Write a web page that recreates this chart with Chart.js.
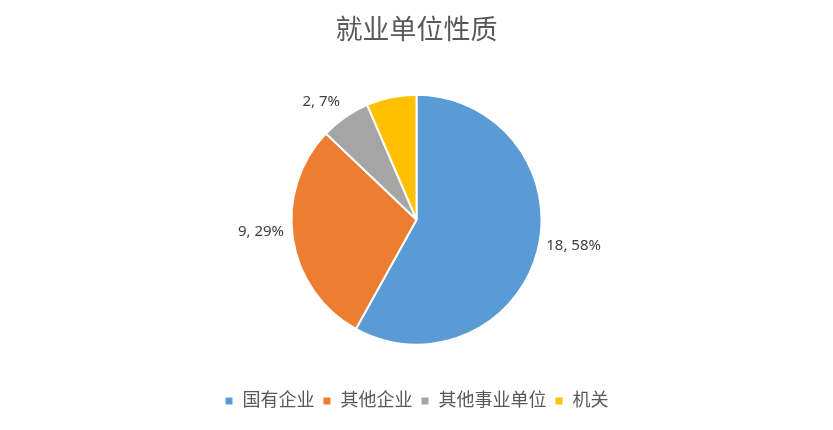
<!DOCTYPE html>
<html>
<head>
<meta charset="utf-8">
<script src="https://cdn.jsdelivr.net/npm/chart.js@4/dist/chart.umd.min.js"></script>
<style>
  html, body { margin: 0; padding: 0; background: #fff; }
  #wrap { width: 833px; height: 430px; }
</style>
</head>
<body>
<div id="wrap"><canvas id="unit-pie"></canvas></div>
<script>
// values
const categories = ['国有企业', '其他企业', '其他事业单位', '机关'];
const counts = [18, 9, 2, 2];
// percent text as printed on the chart (the 机关 slice has no label)
const percentLabels = ['58%', '29%', '7%', ''];
const sliceColors = ['#5B9BD5', '#ED7D31', '#A5A5A5', '#FFC000'];

const FONT = '"Noto Sans", "Noto Sans CJK SC", sans-serif';

// draws "value, pct" outside each slice
const outsideLabels = {
	id: 'outsideLabels',
	afterDatasetsDraw(chart) {
		const { ctx } = chart;
		const meta = chart.getDatasetMeta(0);
		ctx.save();
		ctx.font = '15px ' + FONT;
		ctx.fillStyle = '#404040';
		ctx.textBaseline = 'middle';
		meta.data.forEach((arc, i) => {
			if (!percentLabels[i]) return;
			const mid = (arc.startAngle + arc.endAngle) / 2;
			const r = arc.outerRadius + 9;
			const x = arc.x + Math.cos(mid) * r;
			const y = arc.y + Math.sin(mid) * r - 8;
			ctx.textAlign = Math.cos(mid) >= 0 ? 'left' : 'right';
			ctx.fillText(counts[i] + ', ' + percentLabels[i], x, y);
		});
		ctx.restore();
	}
};

new Chart(document.getElementById('unit-pie'), {
	type: 'pie',
	data: {
		labels: categories,
		datasets: [{
			data: counts,
			backgroundColor: sliceColors,
			borderColor: '#ffffff',
			borderWidth: 2,
			radius: 125,
		}],
	},
	options: {
		responsive: true,
		maintainAspectRatio: false,
		animation: false,
		layout: { padding: { top: 0, bottom: 10 } },
		plugins: {
			title: {
				display: true,
				text: '就业单位性质',
				color: '#595959',
				font: { family: FONT, size: 27, weight: 'normal' },
				padding: { top: 15, bottom: 8 },
			},
			legend: {
				position: 'bottom',
				labels: {
					color: '#595959',
					font: { family: FONT, size: 18 },
					boxWidth: 9,
					boxHeight: 9,
					padding: 8,
				},
			},
			tooltip: { enabled: false },
		},
	},
	plugins: [outsideLabels],
});
</script>
</body>
</html>
